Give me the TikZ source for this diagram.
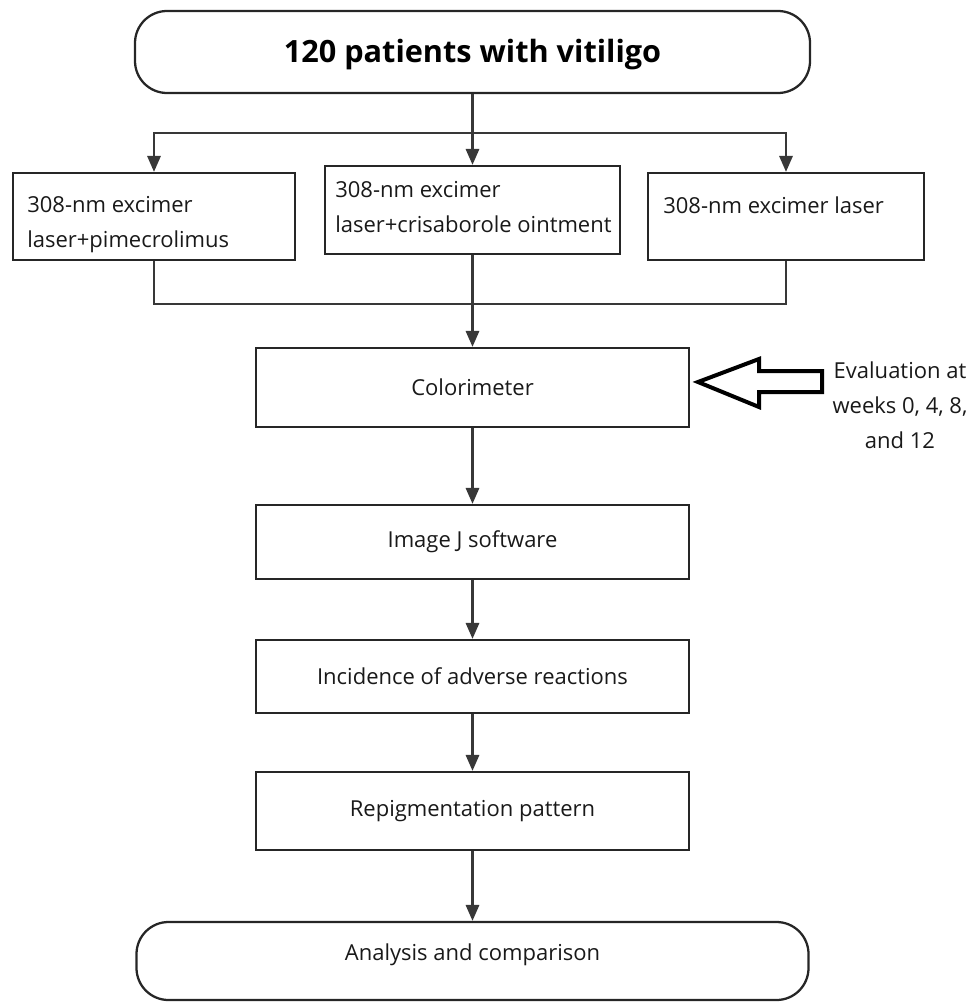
\documentclass[tikz,border=0pt]{standalone}
\usepackage{fontspec}
\setmainfont{Open Sans}
\usetikzlibrary{arrows.meta}
\begin{document}
\begin{tikzpicture}[x=0.75pt,y=-0.75pt,
  boxst/.style={draw=black!85, line width=1.7pt, inner sep=0pt},
  roundst/.style={draw=black!85, line width=1.7pt, rounded corners=24pt, inner sep=0pt},
  txt/.style={font=\fontsize{16.5}{26.25}\selectfont, text=black!90, inner sep=0pt},
  lbl/.style={txt, align=left, anchor=west},
  conn/.style={draw=black!78, line width=1.7pt},
  arr/.style={conn, -{Triangle[length=12pt,width=10pt]}}
]
\useasboundingbox (0,0) rectangle (972,1002);
% top
\node[roundst, minimum width={675*0.75pt}, minimum height={82*0.75pt}] (top) at (472.5,52) {};
\node[font=\fontsize{23}{27}\selectfont\bfseries, inner sep=0pt] (topt) at (472.5,55) {120 patients with vitiligo};
% three groups
\node[boxst, minimum width={282*0.75pt}, minimum height={87*0.75pt}] (g1) at (154,216.5) {};
\node[boxst, minimum width={295*0.75pt}, minimum height={88*0.75pt}] (g2) at (472.5,210) {};
\node[boxst, minimum width={276*0.75pt}, minimum height={87*0.75pt}] (g3) at (786,216.5) {};
\node[lbl, anchor=north west] (t1) at (27,196) {308-nm excimer\\laser+pimecrolimus};
\node[lbl, anchor=north west] (t2) at (335,181) {308-nm excimer\\laser+crisaborole ointment};
\node[lbl] (t3) at (663,205) {308-nm excimer laser};
% chain
\node[boxst, txt, minimum width={433*0.75pt}, minimum height={79*0.75pt}] (c1) at (472.5,387.5) {Colorimeter};
\node[boxst, txt, minimum width={433*0.75pt}, minimum height={74*0.75pt}] (c2) at (472.5,542) {Image J software};
\node[boxst, txt, minimum width={433*0.75pt}, minimum height={73*0.75pt}] (c3) at (472.5,676.5) {Incidence of adverse reactions};
\node[boxst, txt, minimum width={433*0.75pt}, minimum height={78*0.75pt}] (c4) at (472.5,811) {Repigmentation pattern};
\node[roundst, minimum width={672*0.75pt}, minimum height={78*0.75pt}] (end) at (472.5,961) {};
\node[txt] (endt) at (472.5,955) {Analysis and comparison};
% evaluation note
\node[txt, align=center] (ev) at (900,405) {Evaluation at\\weeks 0, 4, 8,\\and 12};
\draw[line width=3pt, line join=miter] (698,382) -- (759,359) -- (759,371) -- (822,371) -- (822,392) -- (759,392) -- (759,407) -- cycle;
% connectors
\coordinate (split) at (top.south |- 0,133);
\coordinate (merge) at (g2.south |- 0,304);
\draw[conn] (top.south) -- (split);
\draw[arr] (split) -- (g2.north);
\draw[arr] (split) -| (g1.north);
\draw[arr] (split) -| (g3.north);
\draw[conn] (g1.south) |- (merge);
\draw[conn] (g3.south) |- (merge);
\draw[arr] (g2.south) -- (c1.north);
\draw[arr] (c1.south) -- (c2.north);
\draw[arr] (c2.south) -- (c3.north);
\draw[arr] (c3.south) -- (c4.north);
\draw[arr] (c4.south) -- (end.north);
\end{tikzpicture}
\end{document}
